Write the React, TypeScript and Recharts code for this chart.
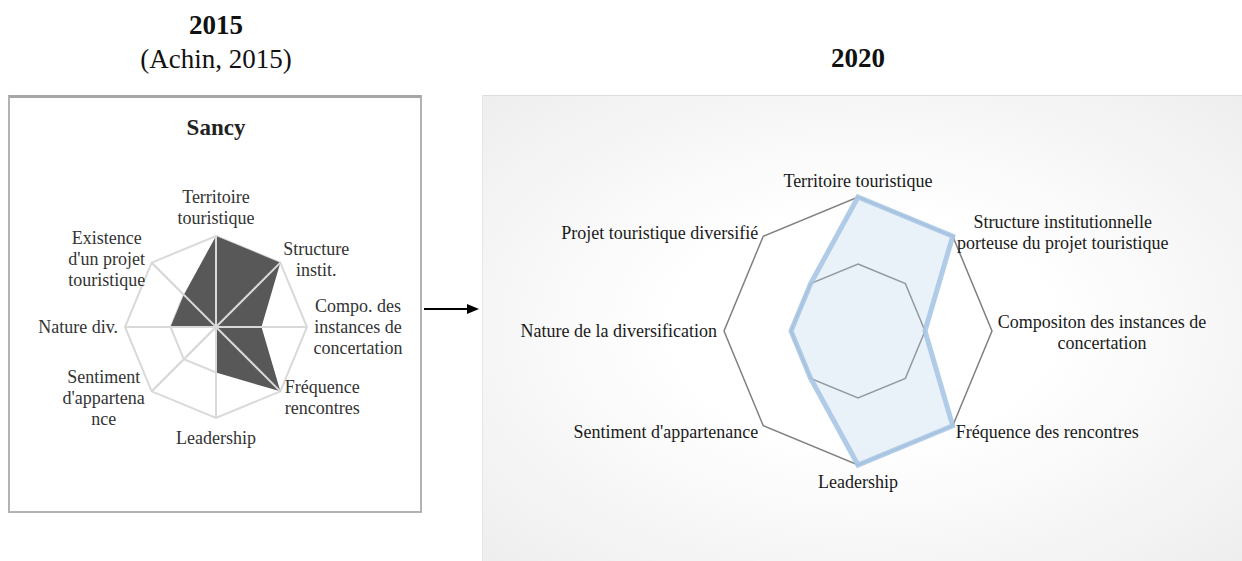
import { RadarChart, Radar, PolarGrid, PolarAngleAxis, PolarRadiusAxis } from "recharts";

// axes in clockwise order from the top
const axes2015 = [
  ["Territoire", "touristique"],
  ["Structure", "instit."],
  ["Compo. des", "instances de", "concertation"],
  ["Fréquence", "rencontres"],
  ["Leadership"],
  ["Sentiment", "d'appartena", "nce"],
  ["Nature div."],
  ["Existence", "d'un projet", "touristique"],
];
const values2015 = [2, 2, 1, 2, 1, 0, 1, 1];

const axes2020 = [
  ["Territoire touristique"],
  ["Structure institutionnelle", "porteuse du projet touristique"],
  ["Compositon des instances de", "concertation"],
  ["Fréquence des rencontres"],
  ["Leadership"],
  ["Sentiment d'appartenance"],
  ["Nature de la diversification"],
  ["Projet touristique diversifié"],
];
const values2020 = [2, 2, 1, 2, 2, 1, 1, 1];

const scaleMax = 2;

const FONT = "'Liberation Serif', 'Times New Roman', serif";

type Place = { dx: number; dy: number; anchor: "start" | "middle" | "end" };

// label placement relative to each axis end
const place2015: Place[] = [
  { dx: 0, dy: -28.5, anchor: "middle" },
  { dx: 36, dy: -3, anchor: "middle" },
  { dx: 51, dy: 0, anchor: "middle" },
  { dx: 42, dy: 6, anchor: "middle" },
  { dx: 0, dy: 20, anchor: "middle" },
  { dx: -48, dy: 7, anchor: "middle" },
  { dx: -7, dy: 0, anchor: "end" },
  { dx: -45, dy: -4, anchor: "middle" },
];
const place2020: Place[] = [
  { dx: 0, dy: -16, anchor: "middle" },
  { dx: 110, dy: -4, anchor: "middle" },
  { dx: 110, dy: 1.5, anchor: "middle" },
  { dx: 3, dy: 6, anchor: "start" },
  { dx: 0, dy: 17, anchor: "middle" },
  { dx: -5, dy: 6, anchor: "end" },
  { dx: -7, dy: 0, anchor: "end" },
  { dx: -5, dy: -3, anchor: "end" },
];

function axisEnd(i: number, cx: number, cy: number, r: number) {
  const a = (i * Math.PI) / 4;
  return { x: cx + r * Math.sin(a), y: cy - r * Math.cos(a) };
}

function makeTick(
  lines: string[][],
  places: Place[],
  cx: number,
  cy: number,
  r: number,
  color: string
) {
  return (props: any) => {
    const idx = props.index ?? props.payload?.index ?? 0;
    const v = axisEnd(idx, cx, cy, r);
    const p = places[idx];
    const ls = lines[idx];
    const lh = 21;
    const y0 = v.y + p.dy - ((ls.length - 1) * lh) / 2;
    return (
      <g>
        {ls.map((t, k) => (
          <text
            key={k}
            x={v.x + p.dx}
            y={y0 + k * lh}
            textAnchor={p.anchor}
            dominantBaseline="central"
            fontFamily={FONT}
            fontSize={18}
            fill={color}
          >
            {t}
          </text>
        ))}
      </g>
    );
  };
}

const L = { w: 414, h: 418, cx: 208, cy: 232, r: 91 };
const R = { w: 760, h: 466, cx: 376, cy: 236, r: 134 };

// dark area with the spokes drawn back on top of it (as in the original)
function SancyShape(props: any) {
  const pts: any[] = props.points || [];
  const d = pts.map((p, i) => `${i === 0 ? "M" : "L"}${p.x},${p.y}`).join(" ") + " Z";
  return (
    <g>
      <path d={d} fill="#585858" stroke="none" />
      {pts.map((_, i) => {
        const e = axisEnd(i, L.cx, L.cy, L.r);
        return <line key={i} x1={L.cx} y1={L.cy} x2={e.x} y2={e.y} stroke="#d9d9d9" strokeWidth={2} />;
      })}
    </g>
  );
}

export default function App() {
  const data2015 = axes2015.map((a, i) => ({ axis: a.join(" "), value: values2015[i] }));
  const data2020 = axes2020.map((a, i) => ({ axis: a.join(" "), value: values2020[i] }));
  const noMargin = { top: 0, right: 0, bottom: 0, left: 0 };

  return (
    <div style={{ position: "absolute", left: 0, top: 0, width: 1242, height: 561, background: "#fff", overflow: "hidden" }}>
      <svg width={1242} height={90} style={{ position: "absolute", left: 0, top: 0 }}>
        <text x={216} y={34} textAnchor="middle" fontFamily={FONT} fontSize={27} fontWeight="bold" fill="#111">2015</text>
        <text x={216} y={68} textAnchor="middle" fontFamily={FONT} fontSize={27} fill="#111">(Achin, 2015)</text>
        <text x={858} y={67} textAnchor="middle" fontFamily={FONT} fontSize={27} fontWeight="bold" fill="#111">2020</text>
      </svg>

      {/* 2015 box */}
      <div
        style={{
          position: "absolute",
          left: 8,
          top: 95,
          width: L.w,
          height: L.h,
          boxSizing: "border-box",
          borderLeft: "2px solid #b3b3b3",
          borderRight: "2px solid #b3b3b3",
          borderBottom: "2px solid #b3b3b3",
          borderTop: "3px solid #a6a6a6",
        }}
      />
      <div style={{ position: "absolute", left: 8, top: 95 }}>
        <RadarChart width={L.w} height={L.h} cx={L.cx} cy={L.cy} outerRadius={L.r} data={data2015} margin={noMargin}>
          <text x={L.cx} y={40} textAnchor="middle" fontFamily={FONT} fontSize={23} fontWeight="bold" fill="#222">Sancy</text>
          <PolarGrid stroke="#d9d9d9" strokeWidth={2} />
          <PolarRadiusAxis domain={[0, scaleMax]} tickCount={3} tick={false} axisLine={false} />
          <PolarAngleAxis
            dataKey="axis"
            axisLine={false}
            tickLine={false}
            tick={makeTick(axes2015, place2015, L.cx, L.cy, L.r, "#333")}
          />
          <Radar dataKey="value" fill="#585858" fillOpacity={1} stroke="none" shape={SancyShape} isAnimationActive={false} />
        </RadarChart>
      </div>

      {/* arrow */}
      <svg width={60} height={20} style={{ position: "absolute", left: 422, top: 299 }}>
        <line x1={2} y1={10} x2={48} y2={10} stroke="#000" strokeWidth={2} />
        <polygon points="45,5 57,10 45,15" fill="#000" />
      </svg>

      {/* 2020 box */}
      <div
        style={{
          position: "absolute",
          left: 482,
          top: 95,
          width: R.w,
          height: R.h,
          boxSizing: "border-box",
          borderTop: "1px solid #dedede",
          borderLeft: "1px solid #e6e6e6",
          background: "radial-gradient(ellipse at 50% 50%, #ffffff 35%, #eeeeee 100%)",
        }}
      />
      <div style={{ position: "absolute", left: 482, top: 95 }}>
        <RadarChart width={R.w} height={R.h} cx={R.cx} cy={R.cy} outerRadius={R.r} data={data2020} margin={noMargin}>
          <PolarGrid stroke="#7f7f7f" strokeWidth={1.5} radialLines={false} />
          <PolarRadiusAxis domain={[0, scaleMax]} tickCount={3} tick={false} axisLine={false} />
          <PolarAngleAxis
            dataKey="axis"
            axisLine={false}
            tickLine={false}
            tick={makeTick(axes2020, place2020, R.cx, R.cy, R.r, "#1a1a1a")}
          />
          <Radar
            dataKey="value"
            fill="#bcd4ec"
            fillOpacity={0.32}
            stroke="#a9c7e4"
            strokeOpacity={0.9}
            strokeWidth={5}
            isAnimationActive={false}
          />
        </RadarChart>
      </div>
    </div>
  );
}
